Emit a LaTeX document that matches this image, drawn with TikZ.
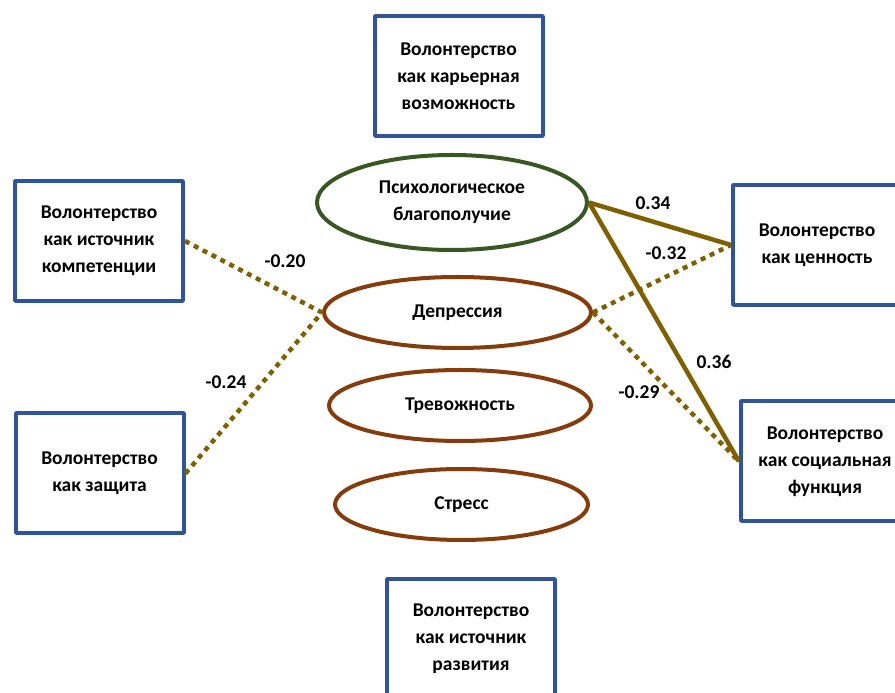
\documentclass[tikz,border=0pt]{standalone}
\usepackage{fontspec}
\setmainfont{Carlito}
\usetikzlibrary{shapes.geometric}
\definecolor{boxcol}{RGB}{47,85,151}
\definecolor{wellcol}{RGB}{56,87,35}
\definecolor{distcol}{RGB}{132,60,12}
\definecolor{pathcol}{RGB}{127,96,0}
\newcommand{\lbl}{\fontsize{19.5bp}{27bp}\selectfont\bfseries}
\begin{document}
\begin{tikzpicture}[>=latex,line join=bevel,
  factor/.style={draw=boxcol,line width=4bp,fill=white,minimum width=168bp,minimum height=120bp,align=center,inner sep=0pt,font=\lbl},
  outcome/.style={ellipse,draw,line width=4bp,align=center,inner sep=0pt,font=\lbl},
  posedge/.style={draw=pathcol,line width=4.5bp},
  negedge/.style={draw=pathcol,line width=4.5bp,dash pattern=on 5bp off 5bp},
  coef/.style={font=\lbl,text=black}]
\useasboundingbox (0bp,0bp) rectangle (895bp,693bp);
%%
  % Node: Career
  \node [factor] (career) at (458.5bp,617bp) {Волонтерство\\как карьерная\\возможность};
  % Node: Competence
  \node [factor] (compet) at (99bp,452bp) {Волонтерство\\как источник\\компетенции};
  % Node: Protection
  \node [factor] (protect) at (99.5bp,219.5bp) {Волонтерство\\как защита};
  % Node: Value
  \node [factor] (value) at (817bp,448bp) {Волонтерство\\как ценность};
  % Node: Social
  \node [factor] (social) at (825bp,231.5bp) {Волонтерство\\как социальная\\функция};
  % Node: Growth
  \node [factor] (growth) at (471bp,54bp) {Волонтерство\\как источник\\развития};
  % Node: Wellbeing
  \node [outcome,draw=wellcol,minimum width=270bp,minimum height=95bp] (well) at (452bp,490.5bp) {Психологическое\\благополучие};
  % Node: Depression
  \node [outcome,draw=distcol,minimum width=267bp,minimum height=71bp] (depr) at (457.5bp,380.5bp) {Депрессия};
  % Node: Anxiety
  \node [outcome,draw=distcol,minimum width=262bp,minimum height=71bp] (anx) at (460bp,287.5bp) {Тревожность};
  % Node: Stress
  \node [outcome,draw=distcol,minimum width=253bp,minimum height=71bp] (stress) at (461.5bp,188.5bp) {Стресс};
%
  % Edge: Competence -> Depression
  \draw [negedge] (compet.east) -- (depr.west);
  \node [coef] (c1) at (285bp,432bp) {-0.20};
  % Edge: Protection -> Depression
  \draw [negedge] (protect.east) -- (depr.west);
  \node [coef] (c2) at (226bp,311bp) {-0.24};
  % Edge: Wellbeing -> Value
  \draw [posedge] (well.east) -- (value.west);
  \node [coef] (c3) at (653bp,490bp) {0.34};
  % Edge: Depression -> Value
  \draw [negedge] (depr.east) -- (value.west);
  \node [coef] (c4) at (666bp,440bp) {-0.32};
  % Edge: Wellbeing -> Social
  \draw [posedge] (well.east) -- (social.west);
  \node [coef] (c5) at (714bp,331bp) {0.36};
  % Edge: Depression -> Social
  \draw [negedge] (depr.east) -- (social.west);
  \node [coef] (c6) at (639bp,301bp) {-0.29};
%
\end{tikzpicture}
\end{document}
